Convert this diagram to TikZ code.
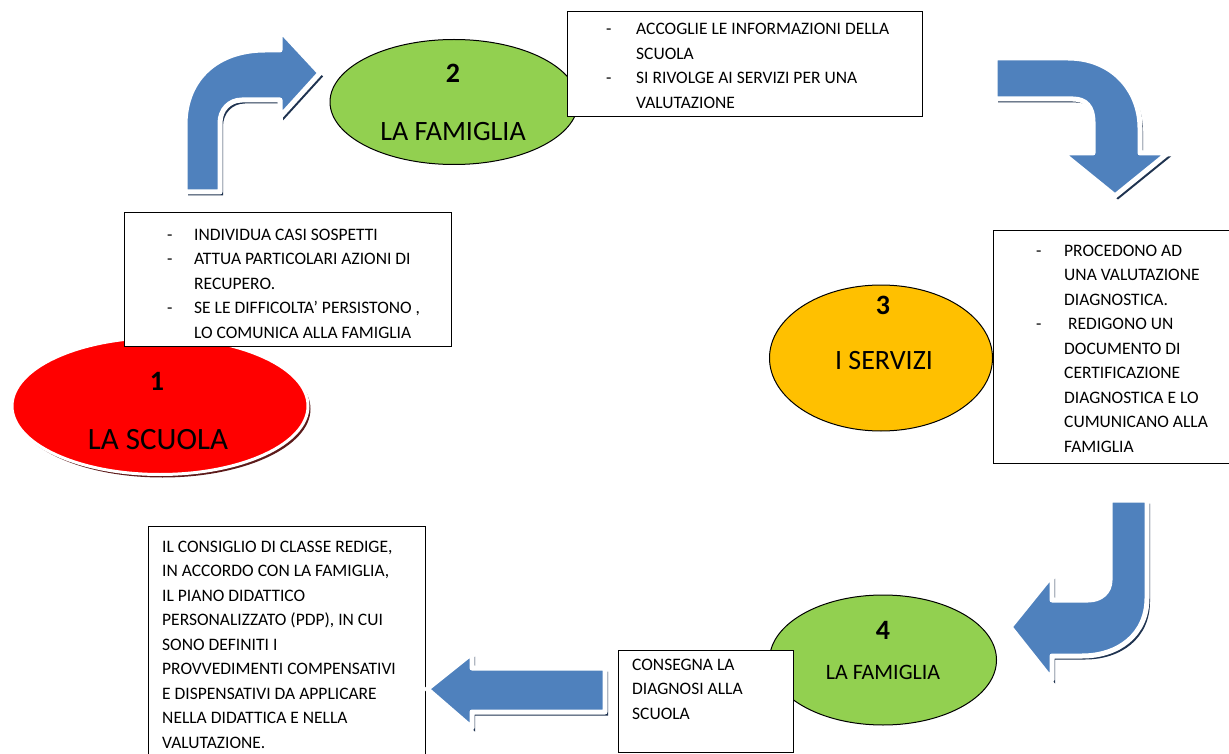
\documentclass[tikz,border=0pt]{standalone}
\usepackage{fontspec}
\setmainfont{Carlito}
\usetikzlibrary{shapes.geometric}
\definecolor{arrblue}{HTML}{4F81BD}
\definecolor{arrshadow}{HTML}{1F3350}
\definecolor{redfill}{HTML}{FF0000}
\definecolor{redshadow}{HTML}{5C1A1A}
\definecolor{greenfill}{HTML}{92D050}
\definecolor{orangefill}{HTML}{FFC000}
\newcommand\blockarrow[1]{%
  \path[fill=arrshadow, shift={(3,3.5)}] #1;
  \path[draw=white, line width=5pt, line join=round, fill=arrblue] #1;
}
\newcommand\dash[1]{\makebox[#1][l]{-}}
\begin{document}
\begin{tikzpicture}[x=1pt,y=-1pt,
  boxtext/.style={anchor=north west, inner sep=0pt, align=left, font=\fontsize{17.5}{24.5}\selectfont},
  box/.style={draw=black, line width=1pt, fill=white, anchor=north west, inner sep=0pt},
  oval/.style={ellipse, inner sep=0pt},
  numlabel/.style={font=\bfseries\fontsize{28}{30}\selectfont, inner sep=0pt},
  ovallabel/.style={inner sep=0pt}]
\useasboundingbox (0,0) rectangle (1229,754);

% ellipse 1
\node[oval, fill=redshadow, minimum width=296pt, minimum height=137pt] (e1s) at (162.5,409) {};
\node[oval, fill=redfill, draw=white, line width=3pt, minimum width=296pt, minimum height=137pt] (e1) at (160,406) {};
\node[numlabel] (n1) at (157,381) {1};
\node[ovallabel, font=\fontsize{31}{33}\selectfont] (t1) at (158,440) {LA SCUOLA};

% ellipse 2
\node[oval, fill=greenfill, draw=black, line width=1pt, minimum width=248pt, minimum height=125pt] (e2) at (454,102) {};
\node[numlabel] (n2) at (453,73) {2};
\node[ovallabel, font=\fontsize{28}{30}\selectfont] (t2) at (453,132) {LA FAMIGLIA};

% ellipse 3
\node[oval, fill=orangefill, draw=black, line width=1pt, minimum width=223pt, minimum height=146pt] (e3) at (881,358) {};
\node[numlabel] (n3) at (883,305) {3};
\node[ovallabel, font=\fontsize{28}{30}\selectfont] (t3) at (884,361) {I SERVIZI};

% ellipse 4
\node[oval, fill=greenfill, draw=black, line width=1pt, minimum width=227pt, minimum height=130pt] (e4) at (883,660) {};
\node[numlabel] (n4) at (883,630) {4};
\node[ovallabel, font=\fontsize{22}{24}\selectfont] (t4) at (883,672) {LA FAMIGLIA};

% boxes
\node[box, minimum width=327pt, minimum height=134pt] (bA) at (124,212) {};
\node[boxtext] (xA) at (167,223) {%
\strut\dash{27pt}INDIVIDUA CASI SOSPETTI\\
\strut\dash{27pt}ATTUA PARTICOLARI AZIONI DI\\
\strut\hspace*{27pt}RECUPERO.\\
\strut\dash{27pt}SE LE DIFFICOLTA’ PERSISTONO ,\\
\strut\hspace*{27pt}LO COMUNICA ALLA FAMIGLIA};

\node[box, minimum width=355pt, minimum height=105pt] (bB) at (567,11) {};
\node[boxtext] (xB) at (606,17.5) {%
\strut\dash{30pt}ACCOGLIE LE INFORMAZIONI DELLA\\
\strut\hspace*{30pt}SCUOLA\\
\strut\dash{30pt}SI RIVOLGE AI SERVIZI PER UNA\\
\strut\hspace*{30pt}VALUTAZIONE};

\node[box, minimum width=240pt, minimum height=233pt] (bC) at (993,230) {};
\node[boxtext] (xC) at (1036,239) {%
\strut\dash{28pt}PROCEDONO AD\\
\strut\hspace*{28pt}UNA VALUTAZIONE\\
\strut\hspace*{28pt}DIAGNOSTICA.\\
\strut\dash{28pt}\hspace*{4pt}REDIGONO UN\\
\strut\hspace*{28pt}DOCUMENTO DI\\
\strut\hspace*{28pt}CERTIFICAZIONE\\
\strut\hspace*{28pt}DIAGNOSTICA E LO\\
\strut\hspace*{28pt}CUMUNICANO ALLA\\
\strut\hspace*{28pt}FAMIGLIA};

\node[box, minimum width=277pt, minimum height=240pt] (bD) at (148,526) {};
\node[boxtext] (xD) at (162,535) {%
\strut IL CONSIGLIO DI CLASSE REDIGE,\\
\strut IN ACCORDO CON LA FAMIGLIA,\\
\strut IL PIANO DIDATTICO\\
\strut PERSONALIZZATO (PDP), IN CUI\\
\strut SONO DEFINITI I\\
\strut PROVVEDIMENTI COMPENSATIVI\\
\strut E DISPENSATIVI DA APPLICARE\\
\strut NELLA DIDATTICA E NELLA\\
\strut VALUTAZIONE.};

\node[box, minimum width=175pt, minimum height=102pt] (bE) at (618,650) {};
\node[boxtext] (xE) at (632,653) {%
\strut CONSEGNA LA\\
\strut DIAGNOSI ALLA\\
\strut SCUOLA};

% block arrows
\blockarrow{(185,192) -- (185,125) .. controls (185,78) and (218,50) .. (265,50) -- (280,50) -- (280,30) -- (320,73) -- (280,117) -- (280,100) -- (242,100) .. controls (229,100) and (220,110) .. (220,123) -- (220,192) -- cycle}
\blockarrow{(995,58) -- (1068,58) .. controls (1112,58) and (1140,90) .. (1140,128) -- (1140,153) -- (1168,153) -- (1115,196) -- (1062,153) -- (1093,153) -- (1093,122) .. controls (1093,107) and (1086,99) .. (1073,99) -- (995,99) -- cycle}
\blockarrow{(1110,500) -- (1147,500) -- (1147,598) .. controls (1147,635) and (1118,656) .. (1082,656) -- (1052,656) -- (1052,680) -- (1010,627) -- (1052,575) -- (1052,600) -- (1088,600) .. controls (1101,600) and (1110,592) .. (1110,580) -- cycle}
\blockarrow{(605,668) -- (472,668) -- (472,653) -- (427,689) -- (472,728) -- (472,712) -- (605,712) -- cycle}
\end{tikzpicture}
\end{document}
